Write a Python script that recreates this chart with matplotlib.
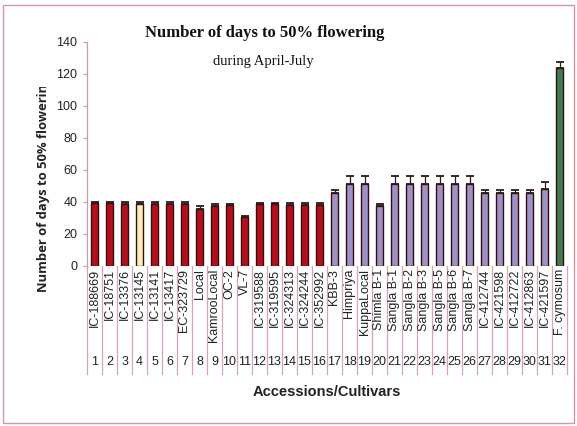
import numpy as np
import matplotlib
matplotlib.use("Agg")
import matplotlib.pyplot as plt
from matplotlib.transforms import blended_transform_factory, Bbox, TransformedBbox
from matplotlib.patches import Rectangle

# accession names and their index in the trial
names = ["IC-188669", "IC-18751", "IC-13376", "IC-13145", "IC-13141", "IC-13417",
         "EC-323729", "Local", "KamrooLocal", "OC-2", "VL-7", "IC-319588",
         "IC-319595", "IC-324313", "IC-324244", "IC-352992", "KBB-3", "Himpriya",
         "KuppaLocal", "Shimla B-1", "Sangla B-1", "Sangla B-2", "Sangla B-3",
         "Sangla B-5", "Sangla B-6", "Sangla B-7", "IC-412744", "IC-421598",
         "IC-412722", "IC-412863", "IC-421597", "F. cymosum"]
numbers = [str(i) for i in range(1, 33)]

days = [39.5, 39.3, 39.0, 39.0, 39.0, 39.0, 39.0, 35.8, 37.8, 38.2, 30.6, 38.5,
        38.5, 38.3, 38.3, 38.3, 45.6, 51.5, 51.5, 37.5, 51.5, 51.5, 51.5,
        51.5, 51.5, 51.5, 45.8, 45.8, 45.8, 45.8, 48.0, 123.5]
err = [0.8, 0.8, 0.8, 0.8, 0.8, 0.8, 0.8, 1.8, 0.8, 0.6, 0.8, 0.8,
       0.8, 0.8, 0.8, 0.8, 1.6, 4.8, 4.8, 1.0, 4.8, 4.8, 4.8,
       4.8, 4.8, 4.8, 1.6, 1.6, 1.6, 1.6, 4.8, 4.0]
groups = ["red"] * 16 + ["purple"] * 15 + ["green"]

palette = {"red": "#b3101c", "purple": "#9d92c6", "green": "#3f7d52"}
colors = [palette[g] for g in groups]
colors[3] = "#f6efb9"

W, H = 577, 426
fig = plt.figure(figsize=(W / 100, H / 100), dpi=100)
fig.patch.set_facecolor("white")

def fx(px):
    return px / W

def fy(py):
    return 1 - py / H

left, right, top, bottom = 87, 567, 42, 266
ax = fig.add_axes([fx(left), fy(bottom), fx(right - left), (bottom - top) / H])

x = np.arange(1, 33)
ax.bar(x, days, width=0.47, color=colors, edgecolor="#3a0c10", linewidth=1.0, zorder=2)
ax.errorbar(x, days, yerr=[np.zeros(32), err], fmt="none", ecolor="#2a1a1a",
            elinewidth=0.9, capsize=3, capthick=1.3, zorder=3)

ax.set_xlim(0.5, 32.5)
ax.set_ylim(0, 140)
ax.set_yticks(np.arange(0, 141, 20))
ax.set_xticks([])
for s in ["top", "right", "bottom"]:
    ax.spines[s].set_visible(False)
ax.spines["left"].set_color("#c89aa5")
ax.spines["left"].set_linewidth(0.9)
ax.tick_params(axis="y", direction="out", length=3, width=0.8, color="#c89aa5",
               labelsize=9, labelcolor="#222222", pad=4)
for lab in ax.get_yticklabels():
    lab.set_fontfamily("Liberation Sans")

# two-row category axis: names then numbers, with separators
tr = blended_transform_factory(ax.transData, fig.transFigure)
sep = "#d9a3b2"
for i in range(33):
    ax.plot([0.5 + i, 0.5 + i], [fy(bottom), fy(374)], color=sep, lw=0.9,
            transform=tr, clip_on=False)
for xi, nm, num in zip(x, names, numbers):
    ax.text(xi, fy(269), nm, rotation=90, ha="center", va="top", transform=tr,
            fontsize=9, family="Liberation Sans", color="#222222")
    ax.text(xi, fy(362), num, ha="center", va="center", transform=tr,
            fontsize=9, family="Liberation Sans", color="#222222")

fig.text(fx(327), fy(392), "Accessions/Cultivars", ha="center", va="center",
         fontsize=10.5, fontweight="bold", family="Liberation Sans", color="#222222")

fig.text(fx(265), fy(33), "Number of days to 50% flowering", ha="center", va="center",
         fontsize=12, fontweight="bold", family="Liberation Serif", color="#111111")
fig.text(fx(263), fy(62), "during April-July", ha="center", va="center",
         fontsize=10.5, family="Liberation Serif", color="#111111")

ylab = fig.text(fx(44), fy(292), "Number of days to 50% flowering", rotation=90,
                ha="center", va="bottom", fontsize=9.4, fontweight="bold",
                family="Open Sans", color="#222222")
ylab.set_clip_box(TransformedBbox(Bbox([[0, 0], [1, fy(87)]]), fig.transFigure))
ylab.set_clip_on(True)

# outer frame
fig.add_artist(Rectangle((fx(3), fy(423)), fx(571), (423 - 5) / H, transform=fig.transFigure,
                         fill=False, edgecolor="#cf9aa6", lw=1.0))

fig.savefig("out.png", dpi=100)
